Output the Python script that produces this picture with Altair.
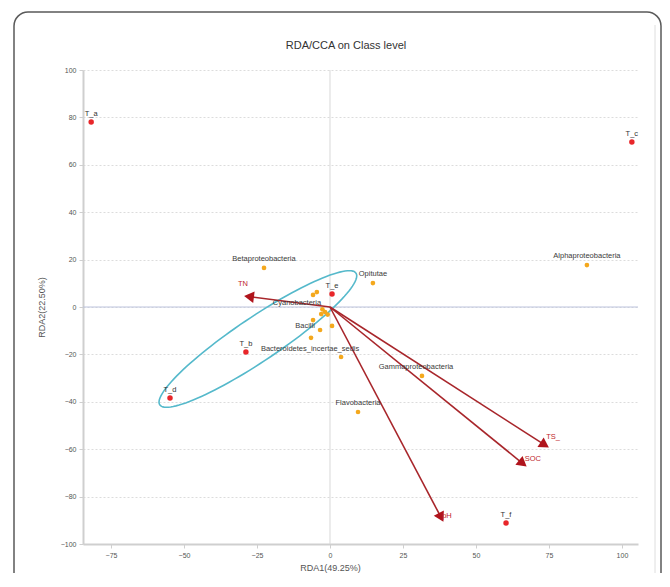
import altair as alt
import pandas as pd
import numpy as np

# ---------------- data ----------------
sample_names = ["T_a", "T_b", "T_c", "T_d", "T_e", "T_f"]
sample_x = [-81.8, -28.8, 103.4, -54.8, 0.7, 60.3]
sample_y = [78.1, -19.0, 69.6, -38.4, 5.5, -91.1]

species_names = ["Betaproteobacteria", "Opitutae", "Alphaproteobacteria",
                 "Gammaproteobacteria", "Flavobacteria",
                 "Bacteroidetes_incertae_sedis", "Cyanobacteria", "Bacilli",
                 "", "", "", "", "", "", "", ""]
species_x = [-22.6, 14.7, 88.0, 31.5, 9.6, 3.8, -1.7, -3.4,
             -5.8, -4.5, -5.8, 0.7, -6.5, -2.6, -0.8, -3.0]
species_y = [16.5, 10.1, 17.7, -29.1, -44.3, -21.1, -2.1, -9.7,
             5.1, 6.3, -5.5, -8.0, -13.0, -1.0, -3.2, -3.0]
# label offsets in pixels (dx, dy) relative to the point
species_lab_dx = [0, 0, 0, -6, 0, -31, -28, -15, 0, 0, 0, 0, 0, 0, 0, 0]
species_lab_dy = [-9, -9, -9, -9, -9, -8, -9, -4, 0, 0, 0, 0, 0, 0, 0, 0]

env_names = ["TN", "TS_", "SOC", "pH"]
env_x = [-29.1, 74.7, 67.1, 38.7]
env_y = [4.6, -59.1, -67.1, -90.3]
env_lab_dx = [-2, 5, 7, 4]
env_lab_dy = [-12, -10, -7, -5]

x_ticks = [-75, -50, -25, 0, 25, 50, 75, 100]
y_ticks = [-100, -80, -60, -40, -20, 0, 20, 40, 60, 80, 100]

title_text = "RDA/CCA on Class level"

# group ellipse (centre and conjugate semi-axes, data units)
ell_center = (-24.7, -13.5)
ell_major = (33.6, 27.8)
ell_minor = (-4.2, 7.6)

# ---------------- layout ----------------
W, H = 555, 474
XDOM = [-84.6, 105.5]
YDOM = [-100, 100]
kx = W / (XDOM[1] - XDOM[0])
ky = H / (YDOM[1] - YDOM[0])

FONT = "Liberation Sans"

samples = pd.DataFrame({"name": sample_names, "x": sample_x, "y": sample_y})
samples["ly"] = samples["y"] + 4 / ky

sp = pd.DataFrame({"name": species_names, "x": species_x, "y": species_y})
sp["lx"] = sp["x"] + np.array(species_lab_dx) / kx
sp["ly"] = sp["y"] - np.array(species_lab_dy) / ky
sp_lab = sp[sp["name"] != ""]

env = pd.DataFrame({"name": env_names, "x": env_x, "y": env_y})
env["x0"] = 0.0
env["y0"] = 0.0
px_dx = env["x"] * kx
px_dy = env["y"] * ky
ln = np.sqrt(px_dx ** 2 + px_dy ** 2)
env["angle"] = (np.degrees(np.arctan2(px_dx, px_dy)) + 360) % 360
env["hx"] = env["x"] - (4 * px_dx / ln) / kx
env["hy"] = env["y"] - (4 * px_dy / ln) / ky
env["lx"] = env["x"] + np.array(env_lab_dx) / kx
env["ly"] = env["y"] - np.array(env_lab_dy) / ky

t = np.linspace(0, 2 * np.pi, 121)
ell = pd.DataFrame({
    "x": ell_center[0] + np.cos(t) * ell_major[0] + np.sin(t) * ell_minor[0],
    "y": ell_center[1] + np.cos(t) * ell_major[1] + np.sin(t) * ell_minor[1],
    "o": np.arange(len(t)),
})

one = pd.DataFrame({"a": [0]})
title_df = pd.DataFrame({"t": [title_text]})

xs = alt.Scale(domain=XDOM, nice=False, zero=False)
ys = alt.Scale(domain=YDOM, nice=False, zero=False)

X = alt.X("x:Q", scale=xs, axis=alt.Axis(
    values=x_ticks, title="RDA1(49.25%)", grid=False, titleX=247, titleY=19,
    titleAlign="center"))
Y = alt.Y("y:Q", scale=ys, axis=alt.Axis(
    values=y_ticks, title="RDA2(22.50%)", grid=True, gridDash=[2, 2],
    gridColor="#dcdcdc", titlePadding=14))

# decoration: frame
frame = alt.Chart(one).mark_rect(
    cornerRadius=14, fillOpacity=0, stroke="#5a5a5a", strokeWidth=1.5
).encode(x=alt.value(-69), x2=alt.value(578), y=alt.value(-58), y2=alt.value(540))
inner = alt.Chart(one).mark_rule(color="#dedede", strokeWidth=1).encode(
    x=alt.value(572), y=alt.value(-45), y2=alt.value(540))
title = alt.Chart(title_df).mark_text(
    font=FONT, fontSize=11, color="#333333", align="center", baseline="middle"
).encode(x=alt.value(263), y=alt.value(-24), text="t:N")

base = alt.Chart(samples).mark_point(opacity=0).encode(x=X, y=Y)

vline = alt.Chart(one).mark_rule(color="#d9d9d9", strokeWidth=1).encode(
    x=alt.datum(0, scale=xs))
hline = alt.Chart(one).mark_rule(color="#bcc3dd", strokeWidth=1).encode(
    y=alt.datum(0, scale=ys))

ellipse = alt.Chart(ell).mark_line(color="#55b9cb", strokeWidth=1.6).encode(
    x=alt.X("x:Q", scale=xs), y=alt.Y("y:Q", scale=ys), order="o:Q")

sp_pts = alt.Chart(sp).mark_circle(color="#f4a81d", size=22, opacity=1).encode(
    x=alt.X("x:Q", scale=xs), y=alt.Y("y:Q", scale=ys))
sp_txt = alt.Chart(sp_lab).mark_text(
    font=FONT, fontSize=7.5, color="#3a3a3a", baseline="middle", align="center"
).encode(x=alt.X("lx:Q", scale=xs), y=alt.Y("ly:Q", scale=ys), text="name:N")

arrows = alt.Chart(env).mark_rule(color="#a8262b", strokeWidth=1.6).encode(
    x=alt.X("x0:Q", scale=xs), y=alt.Y("y0:Q", scale=ys),
    x2="hx:Q", y2="hy:Q")
heads = alt.Chart(env).mark_point(
    shape="triangle-up", filled=True, color="#b0141c", size=130, opacity=1
).encode(x=alt.X("hx:Q", scale=xs), y=alt.Y("hy:Q", scale=ys),
         angle=alt.Angle("angle:Q", scale=None))
env_txt = alt.Chart(env).mark_text(
    font=FONT, fontSize=7.5, color="#c0262d", baseline="middle", align="center"
).encode(x=alt.X("lx:Q", scale=xs), y=alt.Y("ly:Q", scale=ys), text="name:N")

s_pts = alt.Chart(samples).mark_circle(color="#e8262a", size=30, opacity=1).encode(
    x=alt.X("x:Q", scale=xs), y=alt.Y("y:Q", scale=ys))
s_txt = alt.Chart(samples).mark_text(
    font=FONT, fontSize=7.5, color="#333333", baseline="bottom", align="center"
).encode(x=alt.X("x:Q", scale=xs), y=alt.Y("ly:Q", scale=ys), text="name:N")

chart = alt.layer(
    frame, inner, title, base, vline, hline, ellipse, arrows, sp_pts, sp_txt,
    heads, env_txt, s_pts, s_txt
).properties(
    width=W, height=H,
    autosize=alt.AutoSizeParams(type="none"),
    padding={"left": 75, "top": 62, "right": 24, "bottom": 29},
).configure_view(stroke=None).configure_axis(
    domainColor="#cfcfcf", domainWidth=2, tickColor="#cfcfcf", tickSize=4,
    labelFont=FONT, labelFontSize=7, labelColor="#555555",
    titleFont=FONT, titleFontSize=9, titleColor="#555555",
    titleFontWeight="normal", labelPadding=3
)

chart.save("out.html", embed_options={"renderer": "svg", "actions": False})
